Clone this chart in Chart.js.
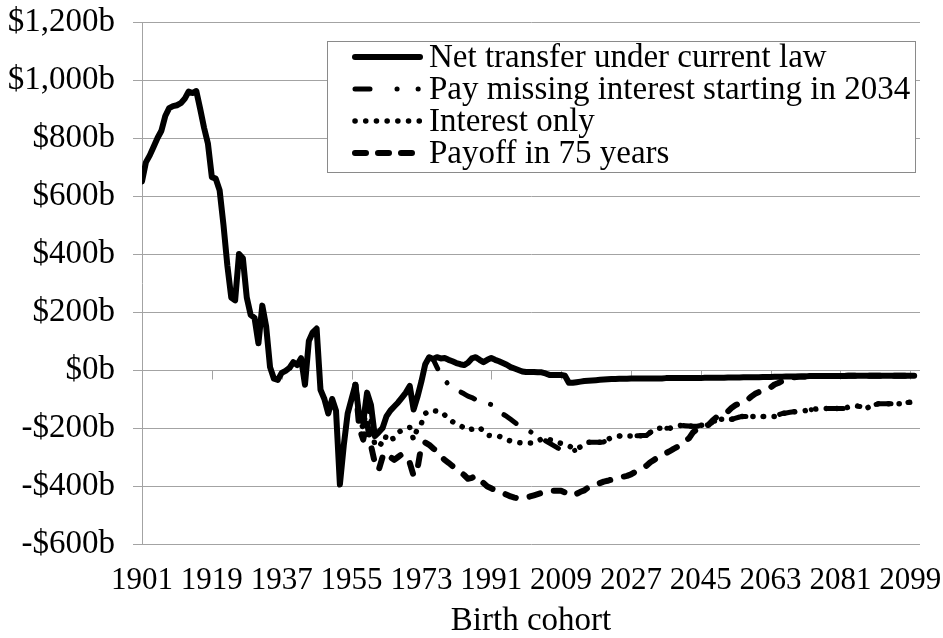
<!DOCTYPE html>
<html>
<head>
<meta charset="utf-8">
<script src="https://cdn.jsdelivr.net/npm/chart.js@4.4.0/dist/chart.umd.min.js"></script>
<style>
  html, body { margin: 0; padding: 0; background: #fff; }
</style>
</head>
<body>
<canvas id="cohortChart" width="943" height="638"></canvas>
<script>
// 出生年コーホート別の純移転額 (十億ドル)
const tickYears = [1901, 1919, 1937, 1955, 1973, 1991, 2009, 2027, 2045, 2063, 2081, 2099];

const netTransferStart = 1901;
const netTransfer = [
  650, 716, 740, 770, 800, 825, 876, 903, 910, 913,
  920, 935, 960, 955, 962, 900, 835, 780, 665, 660,
  620, 500, 360, 250, 240, 400, 385, 250, 190, 180,
  92, 222, 150, 10, -30, -34, -10, -3, 7, 27,
  17, 41, -51, 100, 130, 143, -68, -100, -150, -100,
  -140, -395, -260, -150, -100, -51, -160, -181, -78, -120,
  -228, -215, -200, -160, -140, -126, -112, -95, -78, -55,
  -136, -92, -40, 20, 44, 38, 44, 40, 41, 35,
  30, 24, 20, 17, 25, 40, 44, 35, 27, 35,
  41, 35, 30, 24, 18, 10, 5, 0, -5, -7,
  -7, -7, -8, -8, -12, -17, -17, -17, -17, -20,
  -44, -44, -42, -40, -38, -37, -36, -35, -34, -33,
  -32, -31, -31, -30, -30, -30, -29, -29, -29, -29,
  -29, -29, -29, -29, -29, -28, -28, -28, -28, -28,
  -28, -28, -28, -28, -28, -27, -27, -27, -27, -27,
  -27, -26, -26, -26, -26, -25, -25, -25, -25, -25,
  -24, -24, -24, -23, -23, -23, -22, -22, -22, -22,
  -22, -22, -21, -21, -21, -21, -21, -21, -21, -21,
  -21, -21, -20, -20, -20, -20, -20, -20, -20, -20,
  -20, -20, -20, -20, -20, -20, -20, -20, -20, -20
];

const payMissingStart = 1975;
const payMissing = [
  44, 38, 10, -17, -35, -50,
  -60, -68, -75, -82, -90, -95, -102, -108, -112, -116,
  -119, -130, -142, -152, -160, -170, -180, -190, -198, -205,
  -212, -220, -228, -236, -244, -252, -260, -268, -275, -280,
  -282, -280, -275, -265, -255, -249, -249, -249, -249, -248,
  -240, -232, -230, -228, -228, -228, -228, -227, -227, -226,
  -226, -215, -208, -201, -201, -201, -201, -196, -193, -191,
  -192, -193, -194, -194, -191, -189, -188, -180, -174, -170,
  -170, -170, -170, -166, -162, -160, -160, -160, -160, -160,
  -160, -160, -160, -160, -155, -150, -148, -146, -144, -143,
  -141, -140, -138, -136, -134, -133, -133, -133, -133, -133,
  -133, -133, -128, -125, -123, -126, -129, -130, -124, -119,
  -116, -116, -116, -116, -116, -116, -116, -113, -111, -109
];

const interestOnlyStart = 1956;
const interestOnly = [
  -51, -170, -200, -120, -170,
  -260, -250, -259, -225, -240, -235, -215, -208, -200, -198,
  -240, -200, -184, -150, -140, -140, -142, -143, -155, -170,
  -178, -185, -191, -200, -208, -204, -200, -198, -212, -225,
  -226, -227, -228, -235, -240, -245, -248, -250, -252, -252,
  -252, -252, -245, -238, -235, -240, -245, -249, -253, -258,
  -262, -268, -273, -265, -255, -249, -249, -249, -249, -248,
  -240, -232, -230, -228, -228, -228, -228, -227, -227, -226,
  -226, -215, -208, -201, -201, -201, -201, -196, -193, -191,
  -192, -193, -194, -194, -191, -189, -188, -180, -174, -170,
  -170, -170, -170, -166, -162, -160, -160, -160, -160, -160,
  -160, -160, -160, -160, -155, -150, -148, -146, -144, -143,
  -141, -140, -138, -136, -134, -133, -133, -133, -133, -133,
  -133, -133, -128, -125, -123, -126, -129, -130, -124, -119,
  -116, -116, -116, -116, -116, -116, -116, -113, -111, -109
];

const payoffStart = 1956;
const payoff75 = [
  -51, -200, -240, -180, -260,
  -320, -345, -300, -285, -300, -310, -300, -290, -300, -320,
  -365, -340, -260, -250, -258, -270, -280, -297, -310, -320,
  -331, -340, -351, -362, -375, -372, -365, -378, -390, -402,
  -408, -414, -418, -424, -430, -436, -440, -443, -442, -440,
  -436, -432, -428, -424, -420, -418, -416, -416, -416, -422,
  -430, -433, -427, -420, -415, -405, -399, -395, -390, -385,
  -382, -378, -375, -372, -368, -365, -360, -352, -345, -338,
  -330, -318, -310, -300, -293, -287, -280, -272, -265, -255,
  -245, -235, -215, -204, -198, -193, -189, -175, -163, -157,
  -150, -143, -130, -121, -115, -109, -103, -92, -82, -76,
  -70, -64, -60, -50, -45, -38, -32, -28, -25, -23,
  -22, -22, -21, -21, -21, -21, -21, -21, -21, -21,
  -21, -21, -20, -20, -20, -20, -20, -20, -20, -20,
  -20, -20, -20, -20, -20, -20, -20, -20, -20, -20
];

const seriesLabels = [
  'Net transfer under current law',
  'Pay missing interest starting in 2034',
  'Interest only',
  'Payoff in 75 years'
];

const FONT = "'Liberation Serif', 'Times New Roman', serif";
const GRID = '#a3a3a3';

const toPoints = (start, values) => values.map((v, i) => ({ x: start + i, y: v }));

function lineSet(label, points, width, dash) {
  return {
    label: label,
    data: points,
    borderColor: '#000',
    borderWidth: width,
    borderDash: dash,
    borderCapStyle: 'round',
    borderJoinStyle: 'round',
    pointRadius: 0,
    tension: 0,
    fill: false
  };
}

// 凡例サンプル用の破線パターン
const legendDashes = [[], [15, 27, 0.1, 21, 0.1, 20], [0.1, 10.6], [11, 12]];

const data = {
  datasets: [
    lineSet(seriesLabels[0], toPoints(netTransferStart, netTransfer), 6, []),
    lineSet(seriesLabels[1], toPoints(payMissingStart, payMissing), 5, [15, 17, 0.1, 17]),
    lineSet(seriesLabels[2], toPoints(interestOnlyStart, interestOnly), 5.5, [0.1, 10.5]),
    lineSet(seriesLabels[3], toPoints(payoffStart, payoff75), 6, [11, 14])
  ]
};

// y=0 の軸に目盛り線を描く
const zeroTicks = {
  id: 'zeroTicks',
  beforeDatasetsDraw(chart) {
    const { ctx, scales: { x, y } } = chart;
    const y0 = Math.round(y.getPixelForValue(0)) + 0.5;
    ctx.save();
    ctx.strokeStyle = GRID;
    ctx.lineWidth = 1;
    x.ticks.forEach(t => {
      const px = Math.round(x.getPixelForValue(t.value)) + 0.5;
      ctx.beginPath();
      ctx.moveTo(px, y0);
      ctx.lineTo(px, y0 + 9);
      ctx.stroke();
    });
    ctx.restore();
  }
};

// 枠付きの凡例
const boxLegend = {
  id: 'boxLegend',
  afterDatasetsDraw(chart) {
    const { ctx, chartArea: a } = chart;
    const left = a.left + 185, top = a.top + 19, right = a.right - 5, bottom = top + 131;
    ctx.save();
    ctx.fillStyle = '#fff';
    ctx.fillRect(left, top, right - left, bottom - top);
    ctx.strokeStyle = '#8a8a8a';
    ctx.lineWidth = 1;
    ctx.strokeRect(left + 0.5, top + 0.5, right - left, bottom - top);
    ctx.font = '33px ' + FONT;
    ctx.textBaseline = 'middle';
    chart.data.datasets.forEach((ds, i) => {
      const cy = top + 16 + i * 32;
      ctx.beginPath();
      ctx.setLineDash(legendDashes[i]);
      ctx.lineWidth = ds.borderWidth;
      ctx.lineCap = 'round';
      ctx.strokeStyle = '#000';
      ctx.moveTo(left + 28, cy);
      ctx.lineTo(left + 93, cy);
      ctx.stroke();
      ctx.setLineDash([]);
      ctx.fillStyle = '#000';
      ctx.fillText(ds.label, left + 102, cy + 1);
    });
    ctx.restore();
  }
};

const config = {
  type: 'line',
  data: data,
  options: {
    responsive: false,
    animation: false,
    layout: { padding: { top: 22, right: 23, left: 0, bottom: 0 } },
    plugins: {
      legend: { display: false },
      tooltip: { enabled: false }
    },
    scales: {
      x: {
        type: 'linear',
        min: 1901,
        max: 2101.5,
        afterBuildTicks: axis => { axis.ticks = tickYears.map(v => ({ value: v })); },
        afterFit: axis => {
          axis.height = 94;
          axis.paddingLeft = 0;
          axis.paddingRight = 0;
        },
        grid: { display: false, drawTicks: false },
        border: { display: false },
        ticks: {
          color: '#000',
          font: { family: FONT, size: 31 },
          padding: 18,
          maxRotation: 0,
          autoSkip: false,
          callback: v => String(v)
        },
        title: {
          display: true,
          text: 'Birth cohort',
          color: '#000',
          font: { family: FONT, size: 33 },
          padding: { top: 0, bottom: -3 }
        }
      },
      y: {
        min: -600,
        max: 1200,
        afterFit: axis => {
          axis.width = 142;
          axis.paddingTop = 0;
          axis.paddingBottom = 0;
        },
        grid: { color: GRID, lineWidth: 1, tickLength: 9 },
        border: { color: GRID, width: 1 },
        ticks: {
          stepSize: 200,
          color: '#000',
          font: { family: FONT, size: 33 },
          padding: 18,
          callback: v => (v < 0 ? '-$' : '$') + Math.abs(v).toLocaleString('en-US') + 'b'
        }
      }
    }
  },
  plugins: [zeroTicks, boxLegend]
};

window.addEventListener('load', () => {
  const ctx = document.getElementById('cohortChart').getContext('2d');
  new Chart(ctx, config);
});
</script>
</body>
</html>
